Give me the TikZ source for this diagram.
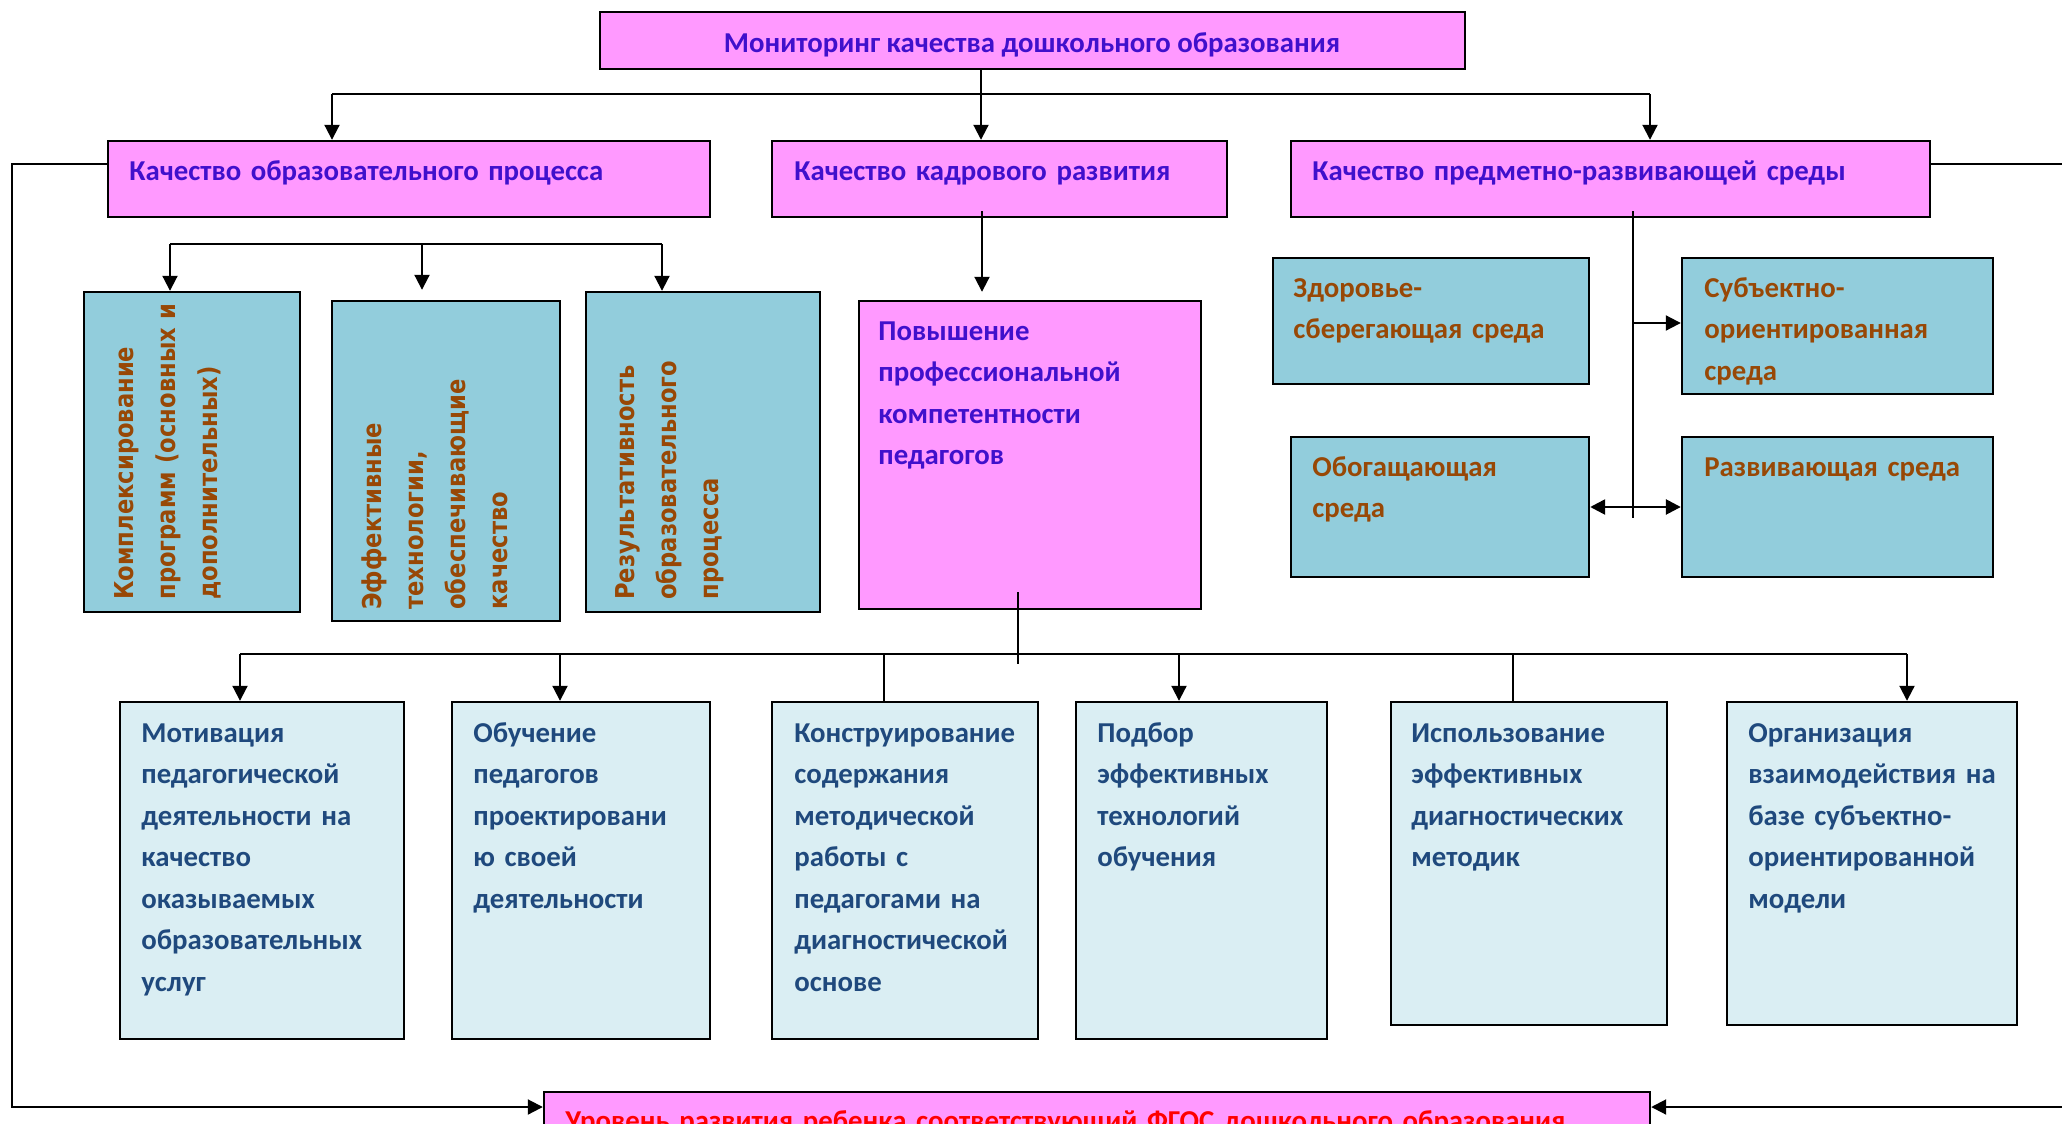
\documentclass[tikz,border=0pt]{standalone}
\usepackage{fontspec}
\setmainfont{Carlito}
\newfontfamily\rotfont[FakeStretch=0.87]{DejaVu Sans}
\usetikzlibrary{arrows.meta,fit,calc}
\definecolor{pinkfill}{HTML}{FF99FF}
\definecolor{bluetxt}{HTML}{4010CC}
\definecolor{tealfill}{HTML}{92CDDC}
\definecolor{browntxt}{HTML}{984806}
\definecolor{lightfill}{HTML}{DAEEF3}
\definecolor{navytxt}{HTML}{1F497D}
\definecolor{redtxt}{HTML}{FF0000}
\newcommand\mainsz{\bfseries\fontsize{14.4pt}{20.75pt}\selectfont}
\newcommand\rotsz{\rotfont\bfseries\fontsize{13pt}{21pt}\selectfont}
\begin{document}
\begin{tikzpicture}[x=0.5pt,y=-0.5pt,
  >={Triangle[length=7.5pt,width=7.5pt]},
  pinkbox/.style={draw=black,line width=1.2pt,fill=pinkfill,inner sep=0pt},
  tealbox/.style={draw=black,line width=1.2pt,fill=tealfill,inner sep=0pt},
  lightbox/.style={draw=black,line width=1.2pt,fill=lightfill,inner sep=0pt},
  conn/.style={draw=black,line width=1pt},
  txt/.style={anchor=base west,inner sep=0pt,text width=300pt,align=left,font=\mainsz},
  rottxt/.style={anchor=base west,inner sep=0pt,text width=300pt,align=left,font=\rotsz,text=browntxt,rotate=90}]
\useasboundingbox (0,0) rectangle (2062,1124);
\clip (0,0) rectangle (2062,1124);
\fill[white] (0,0) rectangle (2062,1124);

% boxes
\node[pinkbox,fit={(600,12)(1465,69)}] (top) {};
\node[pinkbox,fit={(108,141)(710,217)}] (qa) {};
\node[pinkbox,fit={(772,141)(1227,217)}] (qb) {};
\node[pinkbox,fit={(1291,141)(1930,217)}] (qc) {};

\node[tealbox,fit={(84,292)(300,612)}] (d1) {};
\node[tealbox,fit={(332,301)(560,621)}] (d2) {};
\node[tealbox,fit={(586,292)(820,612)}] (d3) {};
\node[pinkbox,fit={(859,301)(1201,609)}] (e) {};

\node[tealbox,fit={(1273,258)(1589,384)}] (f1) {};
\node[tealbox,fit={(1682,258)(1993,394)}] (f2) {};
\node[tealbox,fit={(1291,437)(1589,577)}] (f3) {};
\node[tealbox,fit={(1682,437)(1993,577)}] (f4) {};

\node[lightbox,fit={(120,702)(404,1039)}] (g1) {};
\node[lightbox,fit={(452,702)(710,1039)}] (g2) {};
\node[lightbox,fit={(772,702)(1038,1039)}] (g3) {};
\node[lightbox,fit={(1076,702)(1327,1039)}] (g4) {};
\node[lightbox,fit={(1391,702)(1667,1025)}] (g5) {};
\node[lightbox,fit={(1727,702)(2017,1025)}] (g6) {};

\node[pinkbox,fit={(544,1092)(1650,1180)}] (bot) {};

% connectors: top level
\coordinate (ta) at (981,94);
\coordinate (tl) at (332,94);
\coordinate (tr) at (1650,94);
\draw[conn,->] (top.south -| ta) -- (qb.north -| ta);
\draw[conn] (tl) -- (tr);
\draw[conn,->] (tl) -- (qa.north -| tl);
\draw[conn,->] (tr) -- (qc.north -| tr);

% bracket over D boxes
\coordinate (bl) at (170,244);
\coordinate (bm) at (422,244);
\coordinate (br) at (662,244);
\draw[conn] (bl) -- (br);
\draw[conn,->] (bl) -- (d1.north -| bl);
\draw[conn,->,shorten >=5pt] (bm) -- (d2.north -| bm);
\draw[conn,->] (br) -- (d3.north -| br);

% B to E
\coordinate (eb) at (982,211);
\draw[conn,->,shorten >=4pt] (eb) -- (e.north -| eb);

% C environment connectors
\coordinate (ct) at (1633,211);
\coordinate (cb) at (1633,518);
\coordinate (c1) at (1633,323);
\coordinate (c2) at (1633,507);
\draw[draw=black,line width=0.8pt] (ct) -- (cb);
\draw[conn,->] (c1) -- (f2.west |- c1);
\draw[draw=black,line width=1.3pt,<->] (f3.east |- c2) -- (f4.west |- c2);

% E to bottom row
\coordinate (et) at (1018,592);
\coordinate (ev) at (1018,664);
\draw[conn] (et) -- (ev);
\coordinate (hl) at (240,654);
\coordinate (h2) at (560,654);
\coordinate (h3) at (884,654);
\coordinate (h4) at (1179,654);
\coordinate (h5) at (1513,654);
\coordinate (hr) at (1907,654);
\draw[conn] (hl) -- (hr);
\draw[conn,->] (hl) -- (g1.north -| hl);
\draw[conn,->] (h2) -- (g2.north -| h2);
\draw[conn] (h3) -- (g3.north -| h3);
\draw[conn,->] (h4) -- (g4.north -| h4);
\draw[conn] (h5) -- (g5.north -| h5);
\draw[conn,->] (hr) -- (g6.north -| hr);

% feedback lines
\coordinate (fl1) at (12,164);
\coordinate (fl2) at (12,1107);
\draw[conn,->] (qa.west |- fl1) -- (fl1) -- (fl2) -- (bot.west |- fl2);
\coordinate (fr1) at (2080,164);
\coordinate (fr2) at (2080,1107);
\draw[conn,->] (qc.east |- fr1) -- (fr1) -- (fr2) -- (bot.east |- fr2);

% texts
\node[anchor=base,inner sep=0pt,font=\mainsz,text=bluetxt] (toptxt) at (1032,52) {Мониторинг качества дошкольного образования};
\node[txt,text=bluetxt] (qat) at (129,180) {Качество образовательного процесса};
\node[txt,text=bluetxt] (qbt) at (794,180) {Качество кадрового развития};
\node[txt,text=bluetxt] (qct) at (1312,180) {Качество предметно-развивающей среды};

\node[rottxt] (d1t) at (133,600) {Комплексирование\\программ (основных и\\дополнительных)};
\node[rottxt] (d2t) at (381,610) {Эффективные\\технологии,\\обеспечивающие\\качество};
\node[rottxt] (d3t) at (634,600) {Результативность\\образовательного\\процесса};

\node[txt,text=bluetxt] (et1) at (878,340) {Повышение\\профессиональной\\компетентности\\педагогов};

\node[txt,text=browntxt] (f1t) at (1293,297) {Здоровье-\\сберегающая среда};
\node[txt,text=browntxt] (f2t) at (1704,297) {Субъектно-\\ориентированная\\среда};
\node[txt,text=browntxt] (f3t) at (1312,476) {Обогащающая\\среда};
\node[txt,text=browntxt] (f4t) at (1704,476) {Развивающая среда};

\node[txt,text=navytxt] (g1t) at (141,742) {Мотивация\\педагогической\\деятельности на\\качество\\оказываемых\\образовательных\\услуг};
\node[txt,text=navytxt] (g2t) at (473,742) {Обучение\\педагогов\\проектировани\\ю своей\\деятельности};
\node[txt,text=navytxt] (g3t) at (794,742) {Конструирование\\содержания\\методической\\работы с\\педагогами на\\диагностической\\основе};
\node[txt,text=navytxt] (g4t) at (1097,742) {Подбор\\эффективных\\технологий\\обучения};
\node[txt,text=navytxt] (g5t) at (1411,742) {Использование\\эффективных\\диагностических\\методик};
\node[txt,text=navytxt] (g6t) at (1748,742) {Организация\\взаимодействия на\\базе субъектно-\\ориентированной\\модели};

\node[txt,text=redtxt,text width=560pt] (bott) at (565,1130) {Уровень развития ребенка соответствующий ФГОС дошкольного образования};
\end{tikzpicture}
\end{document}
